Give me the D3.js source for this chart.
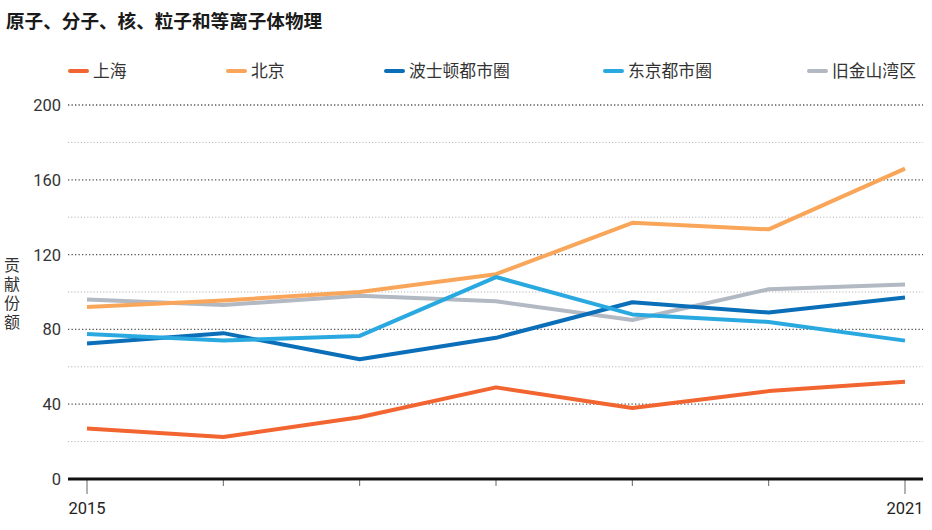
<!DOCTYPE html>
<html lang="zh">
<head>
<meta charset="UTF-8">
<style>
  body { margin: 0; background: #fff; }
  svg { display: block; font-family: "Noto Sans CJK SC", "Noto Sans", sans-serif; }
</style>
</head>
<body>
<svg id="chart" width="932" height="530"></svg>
<script src="https://d3js.org/d3.v7.min.js"></script>
<script>
// 数据
const years = [2015, 2016, 2017, 2018, 2019, 2020, 2021];
const seriesNames = ["上海", "北京", "波士顿都市圈", "东京都市圈", "旧金山湾区"];
const shanghai = [27, 22.5, 33, 49, 38, 47, 52];
const beijing = [92, 95.5, 100, 109.5, 137, 133.5, 166];
const boston = [72.5, 78, 64, 75.5, 94.5, 89, 97];
const tokyo = [77.5, 74, 76.5, 108, 88, 84, 74];
const bayArea = [96, 93, 98, 95, 85, 101.5, 104];
const majorTicks = [0, 40, 80, 120, 160, 200];
const minorTicks = [20, 60, 100, 140, 180];

const colors = ["#f26430", "#f9a65a", "#0a6fb8", "#2aa9e0", "#b2b9c3"];
const values = [shanghai, beijing, boston, tokyo, bayArea];
const legendX = [70, 228, 386, 605, 809];
const drawOrder = [4, 0, 1, 2, 3];

const svg = d3.select("#chart");

const x = d3.scaleLinear().domain([2015, 2021]).range([87, 905]);
const y = d3.scaleLinear().domain([0, 200]).range([479, 105]);
const gridL = 68, gridR = 923;

// 标题
svg.append("text")
  .attr("x", 6).attr("y", 28)
  .attr("font-size", 18.6).attr("font-weight", "bold").attr("fill", "#1a1a1a")
  .text("原子、分子、核、粒子和等离子体物理");

// 图例
const lg = svg.append("g");
seriesNames.forEach((name, i) => {
  lg.append("line")
    .attr("x1", legendX[i]).attr("x2", legendX[i] + 17)
    .attr("y1", 71).attr("y2", 71)
    .attr("stroke", colors[i]).attr("stroke-width", 4).attr("stroke-linecap", "round");
  lg.append("text")
    .attr("x", legendX[i] + 23).attr("y", 77)
    .attr("font-size", 16.8).attr("fill", "#333")
    .text(name);
});

// 网格
svg.append("g").selectAll("line").data(minorTicks).join("line")
  .attr("x1", gridL).attr("x2", gridR)
  .attr("y1", d => y(d)).attr("y2", d => y(d))
  .attr("stroke", "#b5b5b5").attr("stroke-width", 1)
  .attr("stroke-dasharray", "1.2,2");

svg.append("g").selectAll("line").data(majorTicks.filter(d => d > 0)).join("line")
  .attr("x1", gridL).attr("x2", gridR)
  .attr("y1", d => y(d)).attr("y2", d => y(d))
  .attr("stroke", "#555").attr("stroke-width", 1.3)
  .attr("stroke-dasharray", "1.3,2.2");

// Y轴标签
svg.append("g").selectAll("text").data(majorTicks).join("text")
  .attr("x", 61).attr("y", d => y(d) + 6)
  .attr("text-anchor", "end")
  .attr("font-family", "Roboto, 'Noto Sans', sans-serif")
  .attr("font-size", 16.5).attr("fill", "#333")
  .text(d => d);

// Y轴标题(竖排)
svg.append("text")
  .attr("x", 12).attr("y", 257)
  .style("writing-mode", "vertical-rl")
  .style("letter-spacing", "3px")
  .attr("font-size", 16).attr("fill", "#333")
  .text("贡献份额");

// X轴刻度
svg.append("g").selectAll("line").data(years).join("line")
  .attr("x1", d => x(d)).attr("x2", d => x(d))
  .attr("y1", y(0))
  .attr("y2", d => (d === 2015 || d === 2021) ? y(0) + 15 : y(0) + 7)
  .attr("stroke", "#666").attr("stroke-width", 1);

svg.append("g").selectAll("text").data([2015, 2021]).join("text")
  .attr("x", d => x(d)).attr("y", 514)
  .attr("text-anchor", "middle")
  .attr("font-family", "Roboto, 'Noto Sans', sans-serif")
  .attr("font-size", 16.5).attr("fill", "#222")
  .text(d => d);

// 线
const line = d3.line().x((d, i) => x(years[i])).y(d => y(d));
drawOrder.forEach(i => {
  svg.append("path")
    .datum(values[i])
    .attr("d", line)
    .attr("fill", "none")
    .attr("stroke", colors[i])
    .attr("stroke-width", 4)
    .attr("stroke-linejoin", "round")
    .attr("stroke-linecap", "butt");
});

// 零线
svg.append("line")
  .attr("x1", gridL).attr("x2", gridR)
  .attr("y1", y(0)).attr("y2", y(0))
  .attr("stroke", "#111").attr("stroke-width", 3);
</script>
</body>
</html>
